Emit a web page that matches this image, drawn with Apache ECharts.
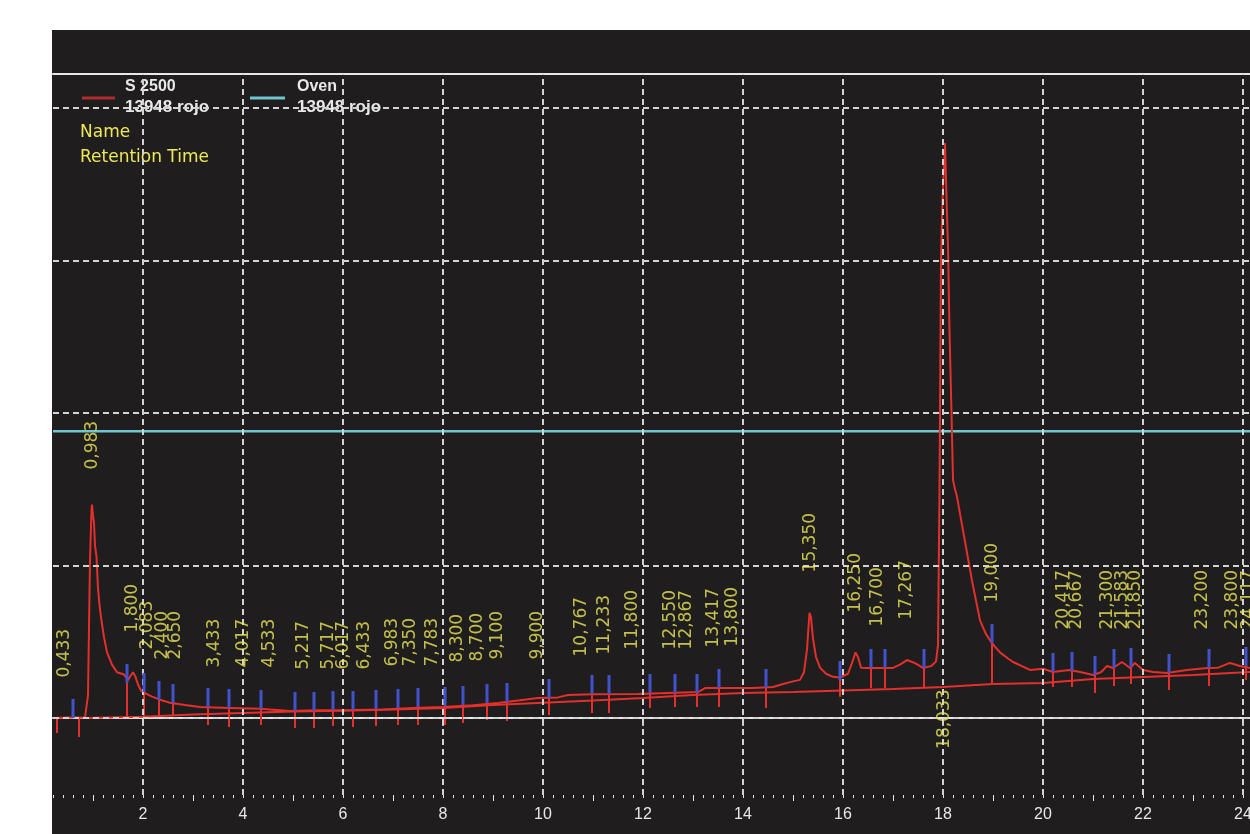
<!DOCTYPE html>
<html><head><meta charset="utf-8">
<script src="https://cdn.jsdelivr.net/npm/echarts@6/dist/echarts.min.js"></script>
<style>
html,body{margin:0;padding:0;background:#fff;width:1250px;height:834px;overflow:hidden}
#c{position:absolute;left:52px;top:30px;width:1198px;height:804px;background:#1f1d1e}
</style></head>
<body><div id="c"></div>
<script>
// ---- data ----
const xTickLabels = [2,4,6,8,10,12,14,16,18,20,22,24];
const oddTicks = [1,3,5,7,9,11,13,15,17,19,21,23];
const gridYValues = [0,100,200,300,400];

// S 2500 detector signal [time min, signal]
const signalTrace = [
[0.20,0],[0.50,0.3],[0.84,0.3],[0.90,15],[0.94,104],[0.97,136],[0.98,140],[1.00,133],[1.02,128],[1.04,113],
[1.07,106],[1.10,85],[1.13,74],[1.16,66],[1.22,53],[1.28,43],[1.38,35],[1.48,30],[1.62,28.5],[1.70,25],
[1.76,28],[1.80,30],[1.85,27],[1.90,22],[1.96,18],[2.06,16],[2.18,14],[2.34,12],[2.54,10],[2.84,8.5],
[3.14,7.2],[3.74,6.6],[4.34,6],[4.94,4.6],[5.5,5.0],[6.2,5.2],[6.8,5.6],[7.4,6.5],[8.0,7.2],[8.6,8.4],
[9.1,9.8],[9.5,11.5],[9.9,13.1],[10.3,13.5],[10.5,15.1],[11.0,15.5],[11.9,15.8],[12.5,16.4],[13.1,17],[13.25,19.7],
[14.2,19.7],[14.6,20.3],[14.8,22.3],[15.0,24],[15.14,25],[15.22,30],[15.28,45],[15.33,69],[15.36,66],[15.40,52],
[15.46,40],[15.54,33],[15.66,29],[15.80,27],[15.94,26.5],[16.10,29],[16.20,38],[16.25,43],[16.30,40],[16.36,33],
[16.50,32.8],[17.00,32.8],[17.14,35],[17.28,38],[17.44,36],[17.60,32.8],[17.76,34],[17.86,37],[17.90,48],[17.93,150],
[17.96,300],[17.99,340],[18.04,377],[18.08,330],[18.10,309],[18.13,254],[18.17,200],[18.20,156],[18.24,150],[18.28,145],
[18.40,123],[18.58,90],[18.74,64],[18.86,55],[18.98,49],[19.14,43],[19.30,39],[19.40,36.7],[19.74,31.5],[20.0,32.3],
[20.2,30.2],[20.4,31],[20.54,31.5],[20.74,30.2],[21.0,28.2],[21.16,30],[21.28,34.1],[21.40,32.8],[21.58,36.7],[21.74,32.8],
[21.84,36.1],[22.0,31.5],[22.2,30.2],[22.48,29.5],[22.88,31.5],[23.28,32.8],[23.5,33],[23.74,36.1],[23.94,34.1],[24.14,32.8]
];

// integration baseline [time, signal]
const integrationBaseline = [
[0.84,0],[2.0,0.8],[3.0,2.3],[4.0,3.3],[5.0,4.3],[6.0,4.8],[7.0,5.6],[8.0,6.6],[9.0,8.5],[10.0,10.0],
[11.0,11.5],[12.0,13.1],[13.0,15.0],[14.0,16.4],[15.0,17.0],[16.0,18.0],[17.0,19.0],[18.0,20.3],[19.0,22.3],[20.0,23.0],
[21.0,25.5],[22.0,26.9],[23.0,28.2],[24.14,30.2]
];

// Oven trace
const ovenTrace = [[0.2,188],[24.14,188]];

// labelled retention times and signal level under each label
const peakTimes = [0.433,0.983,1.800,2.083,2.400,2.650,3.433,4.017,4.533,5.217,5.717,6.017,6.433,6.983,7.350,7.783,
8.300,8.700,9.100,9.900,10.767,11.233,11.800,12.550,12.867,13.417,13.800,15.350,16.250,16.700,17.267,18.033,
19.000,20.417,20.667,21.300,21.583,21.850,23.200,23.800,24.117];
const peakHeights = [0,136.4,29.5,18.4,11.8,11.8,6.6,6.6,6.6,5.2,5.2,5.2,5.2,7.2,7.2,7.2,
9.8,10.5,11.8,11.8,13.8,15.1,18.4,18.4,18.4,19.7,20.3,68.9,42.6,33.4,38,19.7,
49.2,31.5,31.5,31.5,31.5,31.5,31.5,31.5,31.5];
const labelsBelow = [18.033];

// peak boundary markers: blue [time, level], red drop [time, top, bottom]
const blueTicks = [[0.60,0],[1.68,23],[2.02,17],[2.32,11.8],[2.60,9.8],[3.30,7.2],[3.72,6.6],[4.36,5.9],[5.04,4.6],[5.42,4.6],
[5.80,5.2],[6.20,5.2],[6.66,5.9],[7.10,6.6],[7.50,7.2],[8.04,7.9],[8.40,8.5],[8.88,9.8],[9.28,10.5],[10.12,13.1],
[10.98,15.7],[11.32,15.7],[12.14,16.4],[12.64,16.4],[13.08,16.4],[13.52,19.7],[14.46,19.7],[15.94,24.9],[16.56,32.8],[16.84,32.8],
[17.62,32.8],[18.98,49.2],[20.20,30.2],[20.58,30.8],[21.04,28.2],[21.42,32.8],[21.76,33.4],[22.52,29.5],[23.32,32.8],[24.06,34.1]];
const redDrops = [[0.28,0,-9.8],[0.72,0,-12.5],[1.68,23,0],[2.02,17,0],[2.32,11.8,1.3],[2.60,9.8,1.3],[3.30,7.2,-4.6],[3.72,6.6,-5.9],
[4.36,5.9,-4.6],[5.04,4.6,-6.6],[5.42,4.6,-6.6],[5.80,5.2,-5.2],[6.20,5.2,-5.9],[6.66,5.9,-5.2],[7.10,6.6,-4.6],[7.50,7.2,-4.6],
[8.04,7.9,-4.6],[8.40,8.5,-3.3],[8.88,9.8,-1.3],[9.28,10.5,-2],[10.12,13.1,2],[10.98,15.7,3.3],[11.32,15.7,3.3],[12.14,16.4,6.6],
[12.64,16.4,7.2],[13.08,16.4,7.2],[13.52,19.7,7.2],[14.46,19.7,6.6],[15.94,24.9,14],[16.56,32.8,19.7],[16.84,32.8,19.7],[17.62,32.8,19.7],
[18.98,49.2,23],[20.20,30.2,20.3],[20.58,30.8,20.3],[21.04,28.2,16.4],[21.42,32.8,21],[21.76,33.4,22.3],[22.52,29.5,18.4],[23.32,32.8,21],
[24.06,34.1,24.9]];

// ---- styles ----
const RED = '#e4302b', BLUE = '#4252cc', CYAN = '#6fc6cc', YELLOW = '#ece858', WHITE = '#e8e8e8', GRIDC = '#d2d2d2';
const X_MIN = 0.2, X_MAX = 24.14;

const chart = echarts.init(document.getElementById('c'), null, {renderer:'canvas'});

const labelData = peakTimes.map((t, i) => {
  const below = labelsBelow.indexOf(t) >= 0;
  const item = { value: [t, peakHeights[i]], name: t.toFixed(3).replace('.', ',') };
  if (below) item.label = { position: 'bottom', distance: 1, align: 'right', verticalAlign: 'middle' };
  return item;
});

const baseAxis = { type:'value', min:X_MIN, max:X_MAX, splitLine:{show:false} };

chart.setOption({
  backgroundColor: '#1f1d1e',
  animation: false,
  grid: { left: 1, right: 0, top: 44, bottom: 39, containLabel: false, outerBoundsMode: 'none' },
  xAxis: [
    Object.assign({}, baseAxis, {
      position:'bottom',
      axisLine:{show:true, lineStyle:{color:WHITE, width:2}},
      axisTick:{show:true, customValues:xTickLabels, length:8, lineStyle:{color:WHITE, width:1.5}},
      axisLabel:{show:true, customValues:xTickLabels, color:WHITE, fontSize:16, fontFamily:'Liberation Sans', margin:12}
    }),
    Object.assign({}, baseAxis, {
      position:'bottom', interval:0.2,
      axisLine:{show:false},
      axisTick:{show:true, length:3, lineStyle:{color:WHITE, width:1}},
      axisLabel:{show:false}
    }),
    Object.assign({}, baseAxis, {
      position:'bottom',
      axisLine:{show:false},
      axisTick:{show:true, customValues:oddTicks, length:6, lineStyle:{color:WHITE, width:1}},
      axisLabel:{show:false}
    }),
    Object.assign({}, baseAxis, {
      position:'top',
      axisLine:{show:true, lineStyle:{color:WHITE, width:2}},
      axisTick:{show:false},
      axisLabel:{show:false}
    })
  ],
  yAxis: { type:'value', min:-50.5, max:422.3, show:false, splitLine:{show:false} },
  graphic: [
    { type:'line', shape:{x1:30, y1:68, x2:63, y2:68}, style:{stroke:'#b02c2f', lineWidth:3} },
    { type:'text', left:73, top:49, style:{text:'S 2500', fill:WHITE, font:'bold 16px "Liberation Sans"'} },
    { type:'text', left:73, top:69, style:{text:'13948 rojo', fill:WHITE, font:'bold 17px "Liberation Sans"'} },
    { type:'line', shape:{x1:198, y1:68, x2:233, y2:68}, style:{stroke:CYAN, lineWidth:3} },
    { type:'text', left:245, top:49, style:{text:'Oven', fill:WHITE, font:'bold 16px "Liberation Sans"'} },
    { type:'text', left:245, top:69, style:{text:'13948 rojo', fill:WHITE, font:'bold 17px "Liberation Sans"'} },
    { type:'text', left:28, top:94, style:{text:'Name', fill:YELLOW, font:'17px "DejaVu Sans"'} },
    { type:'text', left:28, top:119, style:{text:'Retention Time', fill:YELLOW, font:'17px "DejaVu Sans"'} }
  ],
  series: [
    {
      name:'Oven', type:'line', data:ovenTrace, showSymbol:false, z:2,
      lineStyle:{color:CYAN, width:2.5},
      markLine:{
        silent:true, symbol:['none','none'], label:{show:false},
        lineStyle:{color:GRIDC, width:2, type:[6,4]},
        data: xTickLabels.map(v => ({xAxis:v})).concat(gridYValues.map(v => ({yAxis:v})))
      }
    },
    { name:'Baseline', type:'line', data:integrationBaseline, showSymbol:false, z:3,
      lineStyle:{color:RED, width:2} },
    { name:'S 2500', type:'line', data:signalTrace, showSymbol:false, z:4,
      lineStyle:{color:RED, width:2} },
    {
      name:'drops', type:'custom', data:redDrops, z:4,
      encode:{x:0, y:[1,2]},
      renderItem:(p, api) => {
        const a = api.coord([api.value(0), api.value(1)]);
        const b = api.coord([api.value(0), api.value(2)]);
        return {type:'line', shape:{x1:a[0], y1:a[1], x2:b[0], y2:b[1]}, style:{stroke:RED, lineWidth:2}};
      }
    },
    {
      name:'boundaries', type:'custom', data:blueTicks, z:5,
      encode:{x:0, y:1},
      renderItem:(p, api) => {
        const a = api.coord([api.value(0), api.value(1)]);
        return {type:'line', shape:{x1:a[0], y1:a[1], x2:a[0], y2:a[1]-19}, style:{stroke:BLUE, lineWidth:3}};
      }
    },
    {
      name:'labels', type:'scatter', data:labelData, z:6, symbolSize:1,
      itemStyle:{color:'rgba(0,0,0,0)'},
      label:{
        show:true, formatter:(p) => p.name, rotate:90, position:'top', distance:40,
        align:'left', verticalAlign:'middle',
        color:YELLOW, fontSize:17, fontFamily:'DejaVu Sans'
      }
    }
  ]
});
</script>
</body></html>
